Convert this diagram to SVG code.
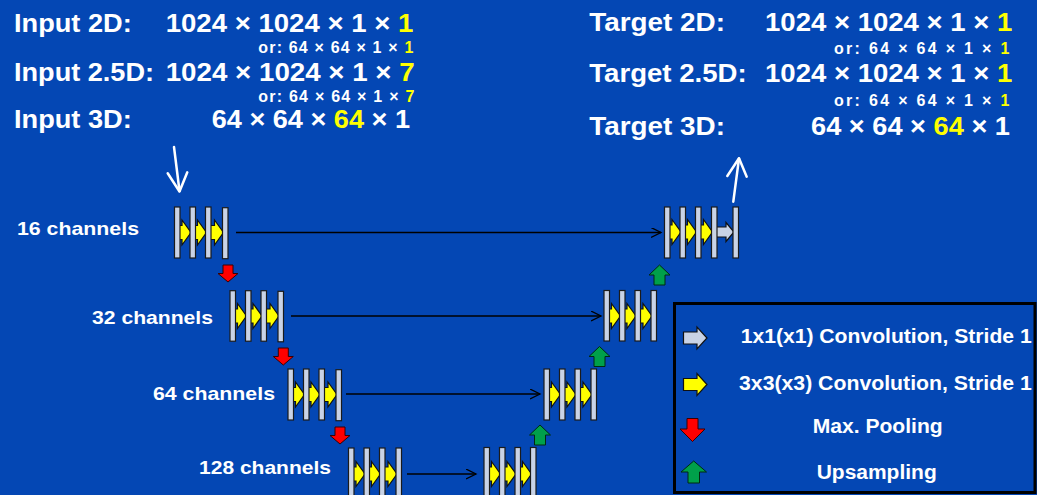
<svg xmlns="http://www.w3.org/2000/svg" xmlns:xlink="http://www.w3.org/1999/xlink" width="1037" height="495" viewBox="0 0 1037 495">
<style>
.t{font-family:"Liberation Sans",Arial,Helvetica,sans-serif;font-weight:bold;fill:#fff}
.big{font-size:26.5px}
.sm{font-size:16px}
.ch{font-size:18.5px}
.lg{font-size:19.5px}
.y{fill:#ffff00}
.bar{fill:#c9d3e6;stroke:#1b1b1b;stroke-width:1.2}
.conn{stroke:#000;stroke-width:1.3;fill:none}
.wa{stroke:#fff;stroke-width:2.5;fill:none;stroke-linecap:round;stroke-linejoin:round}
.ya{fill:#ffff00;stroke:#111;stroke-width:1.2;stroke-linejoin:miter}
.ga{fill:#c9d3e6;stroke:#111;stroke-width:1.2}
.rd{fill:#ff0000;stroke:#3a0000;stroke-width:1}
.gr{fill:#00a04a;stroke:#002a10;stroke-width:1}
</style>
<defs>
<marker id="ah" markerWidth="12" markerHeight="12" refX="10" refY="5" orient="auto" markerUnits="userSpaceOnUse">
<path d="M0,0 L10,5 L0,10" fill="none" stroke="#000" stroke-width="1.3"/>
</marker>
<path id="yarr" class="ya" d="M-14,-7 H-9 V-12.5 L0,0 L-9,12.5 V7 H-14 Z"/>
<path id="rarr" class="rd" d="M-5,0 H5 V8.5 H10 L0,17 L-10,8.5 H-5 Z"/>
<path id="garr" class="gr" d="M-5.5,0 H5.5 V-10 H10.5 L0,-20 L-10.5,-10 H-5.5 Z"/>
</defs>
<rect x="0" y="0" width="1037" height="495" fill="#0447b4"/>

<g id="input-text">
<text class="t big" x="14" y="31.7" textLength="117.7" lengthAdjust="spacingAndGlyphs">Input 2D:</text>
<text class="t big" x="165.7" y="31.7" textLength="247.6" lengthAdjust="spacingAndGlyphs">1024 × 1024 × 1 × <tspan class="y">1</tspan></text>
<text class="t sm" x="258.3" y="53.3" textLength="155" lengthAdjust="spacing">or: 64 × 64 × 1 × <tspan class="y">1</tspan></text>
<text class="t big" x="14" y="81" textLength="140" lengthAdjust="spacingAndGlyphs">Input 2.5D:</text>
<text class="t big" x="165.7" y="81" textLength="249" lengthAdjust="spacingAndGlyphs">1024 × 1024 × 1 × <tspan class="y">7</tspan></text>
<text class="t sm" x="258.3" y="101.7" textLength="156" lengthAdjust="spacing">or: 64 × 64 × 1 × <tspan class="y">7</tspan></text>
<text class="t big" x="14" y="128.3" textLength="117.7" lengthAdjust="spacingAndGlyphs">Input 3D:</text>
<text class="t big" x="211.7" y="128.3" textLength="198.3" lengthAdjust="spacingAndGlyphs">64 × 64 × <tspan class="y">64</tspan> × 1</text>
</g>

<g id="target-text">
<text class="t big" x="589.3" y="30.7" textLength="135.7" lengthAdjust="spacingAndGlyphs">Target 2D:</text>
<text class="t big" x="765" y="30.7" textLength="247.3" lengthAdjust="spacingAndGlyphs">1024 × 1024 × 1 × <tspan class="y">1</tspan></text>
<text class="t sm" x="834" y="54.3" textLength="175.3" lengthAdjust="spacing">or: 64 × 64 × 1 × <tspan class="y">1</tspan></text>
<text class="t big" x="589.3" y="81.7" textLength="157.3" lengthAdjust="spacingAndGlyphs">Target 2.5D:</text>
<text class="t big" x="765" y="81.7" textLength="247.3" lengthAdjust="spacingAndGlyphs">1024 × 1024 × 1 × <tspan class="y">1</tspan></text>
<text class="t sm" x="834" y="106" textLength="175.3" lengthAdjust="spacing">or: 64 × 64 × 1 × <tspan class="y">1</tspan></text>
<text class="t big" x="589.3" y="135" textLength="135.7" lengthAdjust="spacingAndGlyphs">Target 3D:</text>
<text class="t big" x="811" y="135" textLength="199" lengthAdjust="spacingAndGlyphs">64 × 64 × <tspan class="y">64</tspan> × 1</text>
</g>

<g id="channel-labels">
<text class="t ch" x="17" y="234.5" textLength="122" lengthAdjust="spacingAndGlyphs">16 channels</text>
<text class="t ch" x="92" y="323.5" textLength="121" lengthAdjust="spacingAndGlyphs">32 channels</text>
<text class="t ch" x="153" y="399.5" textLength="122" lengthAdjust="spacingAndGlyphs">64 channels</text>
<text class="t ch" x="199" y="473.5" textLength="132" lengthAdjust="spacingAndGlyphs">128 channels</text>
</g>

<g id="connectors">
<line class="conn" x1="236" y1="232.5" x2="661" y2="232.5" marker-end="url(#ah)"/>
<line class="conn" x1="291" y1="316" x2="601" y2="316" marker-end="url(#ah)"/>
<line class="conn" x1="346" y1="394" x2="540" y2="394" marker-end="url(#ah)"/>
<line class="conn" x1="407" y1="474" x2="476" y2="474" marker-end="url(#ah)"/>
<use xlink:href="#rarr" x="228" y="265"/>
<use xlink:href="#rarr" x="283.3" y="348"/>
<use xlink:href="#rarr" x="340" y="427"/>
<use xlink:href="#garr" x="540" y="445"/>
<use xlink:href="#garr" x="599.5" y="366.5"/>
<use xlink:href="#garr" x="659.5" y="285"/>
<line class="wa" x1="174" y1="147" x2="179.5" y2="191"/>
<polyline class="wa" points="167.7,173.3 179.5,191.5 187.3,172.3"/>
<line class="wa" x1="733.3" y1="201.7" x2="739" y2="158.5"/>
<polyline class="wa" points="727.3,176 739,158.3 746.7,176.7"/>
</g>

<g id="enc1">
<use xlink:href="#yarr" x="191" y="232.5"/><use xlink:href="#yarr" x="206.5" y="232.5"/><use xlink:href="#yarr" x="223.5" y="232.5"/>
<rect class="bar" x="174.5" y="207" width="5.5" height="51"/><rect class="bar" x="190" y="207" width="5.5" height="51"/><rect class="bar" x="205.5" y="207" width="5.5" height="51"/><rect class="bar" x="222.5" y="207.7" width="5.5" height="51"/>
</g>
<g id="enc2">
<use xlink:href="#yarr" x="246.5" y="316"/><use xlink:href="#yarr" x="262" y="316"/><use xlink:href="#yarr" x="279" y="316"/>
<rect class="bar" x="230" y="290.7" width="5.5" height="50.5"/><rect class="bar" x="245.5" y="290.7" width="5.5" height="50.5"/><rect class="bar" x="261" y="290.7" width="5.5" height="50.5"/><rect class="bar" x="278" y="291.3" width="5.5" height="50.5"/>
</g>
<g id="enc3">
<use xlink:href="#yarr" x="304.5" y="394.5"/><use xlink:href="#yarr" x="320" y="394.5"/><use xlink:href="#yarr" x="337" y="394.5"/>
<rect class="bar" x="288" y="369" width="5.5" height="51"/><rect class="bar" x="303.5" y="369" width="5.5" height="51"/><rect class="bar" x="319" y="369" width="5.5" height="51"/><rect class="bar" x="336" y="369.7" width="5.5" height="51"/>
</g>
<g id="bottleneck-left">
<use xlink:href="#yarr" x="365" y="474"/><use xlink:href="#yarr" x="380.5" y="474"/><use xlink:href="#yarr" x="397" y="474"/>
<rect class="bar" x="348.5" y="448" width="5.5" height="52"/><rect class="bar" x="364" y="448" width="5.5" height="52"/><rect class="bar" x="379.5" y="448" width="5.5" height="52"/><rect class="bar" x="396" y="448" width="5.5" height="52"/>
</g>
<g id="bottleneck-right">
<use xlink:href="#yarr" x="500.5" y="474"/><use xlink:href="#yarr" x="516" y="474"/><use xlink:href="#yarr" x="531.5" y="474"/>
<rect class="bar" x="484" y="447.5" width="5.5" height="52"/><rect class="bar" x="499.5" y="447.5" width="5.5" height="52"/><rect class="bar" x="515" y="447.5" width="5.5" height="52"/><rect class="bar" x="530.5" y="447.5" width="5.5" height="52"/>
</g>
<g id="dec3">
<use xlink:href="#yarr" x="560.5" y="394.5"/><use xlink:href="#yarr" x="576" y="394.5"/><use xlink:href="#yarr" x="592" y="394.5"/>
<rect class="bar" x="544" y="369" width="5.5" height="51"/><rect class="bar" x="559.5" y="369" width="5.5" height="51"/><rect class="bar" x="575" y="369" width="5.5" height="51"/><rect class="bar" x="591" y="369" width="5.5" height="51"/>
</g>
<g id="dec2">
<use xlink:href="#yarr" x="620.5" y="316"/><use xlink:href="#yarr" x="636" y="316"/><use xlink:href="#yarr" x="652" y="316"/>
<rect class="bar" x="604" y="290.5" width="5.5" height="50.5"/><rect class="bar" x="619.5" y="290.5" width="5.5" height="50.5"/><rect class="bar" x="635" y="290.5" width="5.5" height="50.5"/><rect class="bar" x="651" y="290.5" width="5.5" height="50.5"/>
</g>
<g id="dec1">
<use xlink:href="#yarr" x="681" y="232"/><use xlink:href="#yarr" x="696.5" y="232"/><use xlink:href="#yarr" x="712.5" y="232"/>
<path class="ga" d="M714,227 H726 V222.5 L734,232 L726,241.5 V237 H714 Z"/>
<rect class="bar" x="664.5" y="207" width="5.5" height="51"/><rect class="bar" x="680" y="207" width="5.5" height="51"/><rect class="bar" x="695.5" y="207" width="5.5" height="51"/><rect class="bar" x="711.5" y="207" width="5.5" height="51"/><rect class="bar" x="733" y="207" width="5.5" height="51"/>
</g>

<g id="legend">
<rect x="674.5" y="303.5" width="360.5" height="189" fill="none" stroke="#000" stroke-width="3"/>
<path class="ga" stroke-width="1.8" d="M683.5,332 H697 V327 L707,338 L697,349 V344 H683.5 Z"/>
<path class="ya" stroke-width="1.8" d="M683.5,378.5 H697 V373.5 L707,384.5 L697,395.5 V390.5 H683.5 Z"/>
<path class="rd" stroke="#000" stroke-width="1.8" d="M687,418.5 H698 V429 H705 L692.5,441.5 L680,429 H687 Z"/>
<path class="gr" stroke="#000" stroke-width="1.8" d="M688,483 H699.5 V472 H706.5 L693.7,461 L681,472 H688 Z"/>
<text class="t lg" x="740.7" y="343.3" textLength="291" lengthAdjust="spacingAndGlyphs">1x1(x1) Convolution, Stride 1</text>
<text class="t lg" x="739" y="390" textLength="292.7" lengthAdjust="spacingAndGlyphs">3x3(x3) Convolution, Stride 1</text>
<text class="t lg" x="812.7" y="433.3" textLength="130" lengthAdjust="spacingAndGlyphs">Max. Pooling</text>
<text class="t lg" x="816.7" y="479.3" textLength="120" lengthAdjust="spacingAndGlyphs">Upsampling</text>
</g>
</svg>
